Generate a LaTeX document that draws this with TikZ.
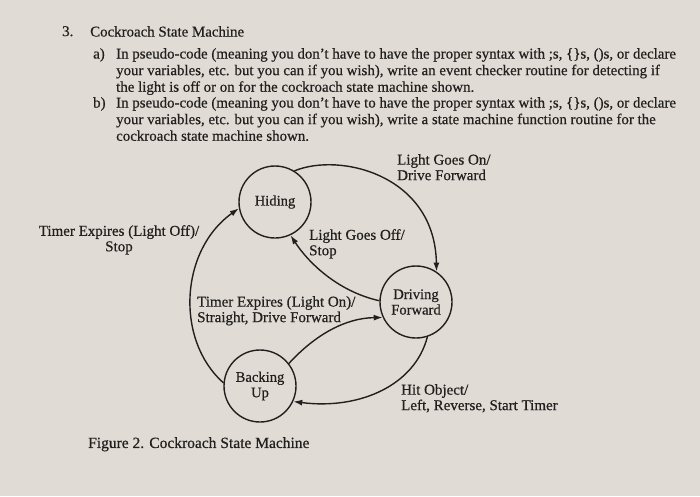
\documentclass[tikz,border=0pt]{standalone}
\usepackage{fontspec}
\setmainfont{Liberation Serif}[BoldFont={Liberation Serif},BoldFeatures={FakeBold=0.6}]
\usepackage{xcolor}
\usepackage{tikz}
\usetikzlibrary{positioning, calc, arrows.meta}

\definecolor{paper}{RGB}{224,220,213}
\definecolor{ink}{RGB}{34,32,31}

\tikzset{
  state/.style={circle, draw=ink, line width=1.4pt, minimum size=72pt, inner sep=0pt, align=center, text=ink, font=\fontsize{14.6}{15.5}\selectfont\bfseries},
  trans/.style={->, draw=ink, line width=1.4pt},
  lbl/.style={inner sep=0pt, align=left, text=ink, font=\fontsize{15}{15.5}\selectfont\bfseries},
  body/.style={inner sep=0pt, align=left, anchor=north west, text=ink, font=\fontsize{14.9}{16.6}\selectfont\bfseries},
}

\begin{document}
\begin{tikzpicture}[x=1pt,y=-1pt,>={Latex[length=9pt,width=6pt]}]

    \fill[paper] (0,0) rectangle (700,496);
    \useasboundingbox (0,0) rectangle (700,496);

    % Question text
    \node[body] (qnum) at (62,26) {3.};
    \node[body] (qtitle) at (90,26) {Cockroach State Machine};
    \node[body] (parta) at (93,48) {a)};
    \node[body] (texta) at (116,48) {In pseudo-code (meaning you don't have to have the proper syntax with ;s, \{\}s, ()s, or declare\\
      your variables, etc. but you can if you wish), write an event checker routine for detecting if\\
      the light is off or on for the cockroach state machine shown.};
    \node[body] (partb) at (93,97) {b)};
    \node[body] (textb) at (116,97) {In pseudo-code (meaning you don't have to have the proper syntax with ;s, \{\}s, ()s, or declare\\
      your variables, etc. but you can if you wish), write a state machine function routine for the\\
      cockroach state machine shown.};

    % States
    \node[state] (hiding) at (275,202) {Hiding};
    \node[state] (driving) at (416,302) {Driving\\Forward};
    \node[state] (backing) at (260,386) {Backing\\Up};

    % Transitions
    \draw[trans] (hiding.58) .. controls (340,152) and (435,175) .. (driving.56);
    \draw[trans] (driving.178) .. controls (340,292) and (310,265) .. (hiding.295);
    \draw[trans] (backing.175) .. controls (175,340) and (180,250) .. (hiding.190);
    \draw[trans] (backing.38) .. controls (315,335) and (345,318) .. (driving.205);
    \draw[trans] (driving.288) .. controls (415,385) and (360,410) .. (backing.335);

    % Labels
    \node[lbl, anchor=north west] (lon) at (397,154) {Light Goes On/\\Drive Forward};
    \node[lbl, anchor=north west] (loff) at (309,229) {Light Goes Off/\\Stop};
    \node[lbl, anchor=north, align=center] (toff) at (119,225) {Timer Expires (Light Off)/\\Stop};
    \node[lbl, anchor=north west] (ton) at (197,296) {Timer Expires (Light On)/\\Straight, Drive Forward};
    \node[lbl, anchor=north west] (hit) at (401,384) {Hit Object/\\Left, Reverse, Start Timer};

    % Caption
    \node[body, font=\fontsize{15.5}{16}\selectfont\bfseries] (caption) at (88,437) {Figure 2. Cockroach State Machine};
\end{tikzpicture}
\end{document}
